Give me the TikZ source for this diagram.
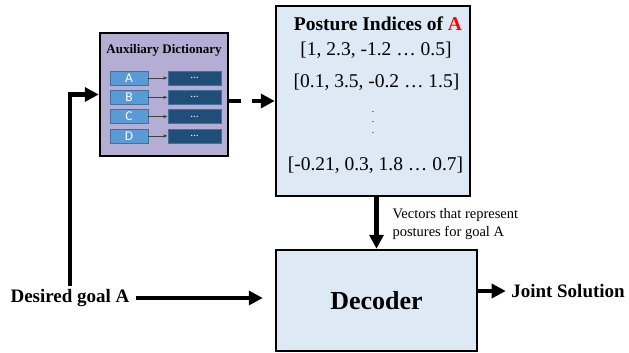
\documentclass[tikz,border=0pt]{standalone}
\usepackage{fontspec}
\setmainfont{Liberation Serif}
\newfontfamily\keyfont{Carlito}
\usetikzlibrary{arrows.meta,positioning}

\definecolor{auxfill}{RGB}{180,174,212}
\definecolor{postfill}{RGB}{222,233,246}
\definecolor{keyfill}{RGB}{91,155,213}
\definecolor{valfill}{RGB}{31,78,121}
\definecolor{cellborder}{RGB}{65,113,156}

\tikzset{
	block/.style={draw=black, line width=2.5pt, inner sep=0pt},
	keybox/.style={draw=cellborder, fill=keyfill, line width=0.6pt, minimum width=38pt, minimum height=14pt, inner sep=0pt, text=white, font=\keyfont\fontsize{13.5}{13.5}\selectfont},
	valbox/.style={draw=cellborder, fill=valfill, line width=0.6pt, minimum width=53pt, minimum height=14pt, inner sep=0pt, text=white, font=\keyfont\fontsize{11}{11}\selectfont},
	keyarrow/.style={draw=black!75, line width=0.7pt, -{Latex[length=4pt,width=3.5pt]}},
	thickarrow/.style={line width=4.5pt, -{Triangle[length=14pt,width=14pt]}},
	dotmark/.style={inner sep=0pt, font=\fontsize{9.5}{9.5}\selectfont},
}

\begin{document}
\begin{tikzpicture}[x=1pt, y=-1pt]
		\useasboundingbox (0,0) rectangle (629,353);

		% auxiliary dictionary
		\node[block, fill=auxfill, minimum width=128pt, minimum height=123pt] (aux) at (164,94.5) {};
		\node[font=\bfseries\fontsize{13}{13}\selectfont] (auxtitle) at (164,50) {Auxiliary Dictionary};
		\foreach \k [count=\i from 0] in {A,B,C,D} {
			\node[keybox] (key\k) at (129,78+19.3*\i) {\k};
			\node[valbox] (val\k) at (194.5,78+19.3*\i) {...};
			\draw[keyarrow] (key\k) -- (val\k);
		}

		% posture indices
		\node[block, fill=postfill, minimum width=194pt, minimum height=190pt] (post) at (373,101) {};
		\node[font=\bfseries\fontsize{19.5}{20}\selectfont] (posttitle) at (378,24) {Posture Indices of \textcolor{red}{A}};
		\node[font=\fontsize{19.5}{20}\selectfont] (row1) at (376,50) {[1, 2.3, -1.2 … 0.5]};
		\node[font=\fontsize{19.5}{20}\selectfont] (row2) at (376.5,82) {[0.1, 3.5, -0.2 … 1.5]};
		\foreach \d [count=\j] in {112,122.5,133} {
			\node[dotmark] (dot\j) at (373,\d) {.};
		}
		\node[font=\fontsize{19.5}{20}\selectfont] (row3) at (375.5,165) {[-0.21, 0.3, 1.8 … 0.7]};

		% decoder
		\node[block, fill=postfill, minimum width=201pt, minimum height=101pt, font=\bfseries\fontsize{26}{26}\selectfont] (dec) at (376.5,300.5) {Decoder};

		\node[font=\bfseries\fontsize{19}{20}\selectfont] (goal) at (70,298) {Desired goal A};
		\node[font=\bfseries\fontsize{19}{20}\selectfont] (joint) at (568,291) {Joint Solution};
		\node[font=\fontsize{14.5}{18}\selectfont, align=left, anchor=west] (vec) at (389,224) {Vectors that represent\\postures for goal A};

		\draw[thickarrow] (goal.north) |- (aux.west);
		\draw[thickarrow, dash pattern=on 12pt off 11pt] (aux.east |- post.west) -- (post.west);
		\draw[thickarrow] (post.south -| dec.north) -- (dec.north);
		\draw[thickarrow, shorten <=3pt, shorten >=12pt] (goal.east) -- (goal.east -| dec.west);
		\draw[thickarrow, shorten >=2pt] (dec.east |- joint.west) -- (joint.west);
\end{tikzpicture}
\end{document}
